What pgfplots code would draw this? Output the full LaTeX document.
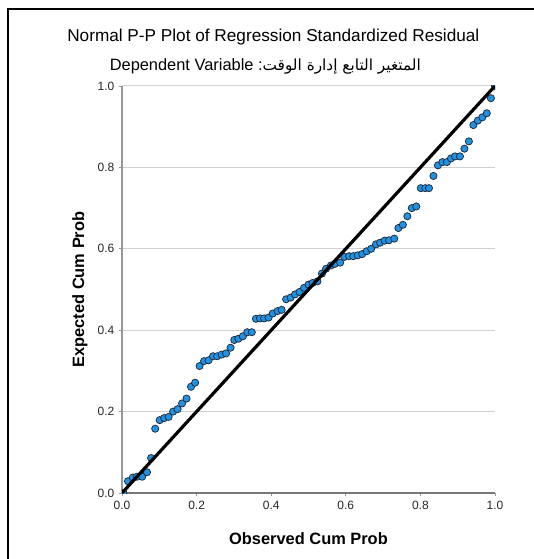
\documentclass[border=0pt]{standalone}
\usepackage{pgfplots}
\pgfplotsset{compat=1.18}
\usepackage{fontspec}
\setmainfont{Liberation Sans}
\newfontfamily\arabicfont[Script=Arabic]{DejaVu Sans}
\TeXXeTstate=1
\definecolor{ptblue}{RGB}{33,145,225}
\definecolor{ptedge}{RGB}{30,40,55}
\definecolor{gridgray}{RGB}{208,208,208}
\definecolor{axgray}{RGB}{150,150,150}
\begin{document}
\begin{tikzpicture}
\useasboundingbox (0,0) rectangle (400.5pt,-419.25pt);
\draw[black, line width=1pt] (6pt,-440pt) -- (6pt,-6.75pt) -- (420pt,-6.75pt);
\node[font=\fontsize{12.9}{14}\selectfont] at (205pt,-27.75pt) {Normal P-P Plot of Regression Standardized Residual};
\node[font=\fontsize{12.3}{14}\selectfont] at (199pt,-49.5pt) {Dependent Variable :{\arabicfont\fontsize{11.5}{14}\selectfont\beginR المتغير التابع إدارة الوقت\endR}};
\begin{axis}[
  at={(91.5pt,-369.75pt)}, anchor=origin,
  scale only axis, width=279.75pt, height=305.25pt,
  xmin=0, xmax=1, ymin=0, ymax=1,
  xtick={0,0.2,0.4,0.6,0.8,1}, ytick={0,0.2,0.4,0.6,0.8,1},
  /pgf/number format/assume math mode=true,
  /pgf/number format/.cd, fixed, fixed zerofill, precision=1, /pgfplots/.cd,
  ticklabel style={font=\fontsize{9}{10}\selectfont, text=black!85},
  axis x line*=bottom, axis y line*=left,
  tick align=outside, major tick length=2.25pt,
  tick style={draw=axgray, line width=0.6pt},
  ymajorgrids, grid style={draw=gridgray, line width=0.75pt},
  x axis line style={draw=axgray!80!black, line width=0.8pt},
  y axis line style={draw=axgray, line width=0.8pt},
  xlabel={Observed Cum Prob}, ylabel={Expected Cum Prob},
  label style={font=\fontsize{12.3}{14}\selectfont\bfseries},
  xlabel style={at={(axis description cs:0.5,-0.113)}, anchor=center},
  ylabel style={at={(axis description cs:-0.1126,0.5)}, anchor=center},
  clip marker paths=true,
]
\addplot[only marks, mark=*, mark size=2.7pt, mark options={fill=ptblue, draw=ptedge, line width=0.55pt}] table {
x y
0.004 0.000
0.016 0.029
0.029 0.038
0.040 0.040
0.054 0.040
0.067 0.051
0.078 0.086
0.089 0.158
0.101 0.179
0.113 0.184
0.125 0.187
0.137 0.200
0.149 0.206
0.161 0.220
0.173 0.232
0.185 0.261
0.196 0.271
0.208 0.312
0.220 0.324
0.232 0.326
0.244 0.336
0.255 0.336
0.267 0.340
0.279 0.343
0.291 0.357
0.301 0.376
0.312 0.379
0.324 0.385
0.336 0.395
0.348 0.395
0.359 0.428
0.370 0.429
0.381 0.429
0.393 0.431
0.404 0.441
0.417 0.447
0.428 0.450
0.440 0.476
0.452 0.480
0.464 0.488
0.476 0.494
0.488 0.504
0.500 0.512
0.511 0.516
0.524 0.520
0.536 0.539
0.547 0.551
0.560 0.559
0.571 0.563
0.585 0.566
0.596 0.580
0.609 0.582
0.620 0.582
0.632 0.584
0.644 0.587
0.656 0.594
0.668 0.600
0.681 0.611
0.692 0.615
0.704 0.620
0.716 0.621
0.730 0.625
0.741 0.651
0.753 0.659
0.765 0.680
0.777 0.700
0.789 0.704
0.801 0.749
0.813 0.749
0.823 0.749
0.835 0.779
0.847 0.805
0.859 0.813
0.871 0.813
0.882 0.822
0.893 0.827
0.906 0.827
0.918 0.846
0.930 0.864
0.942 0.904
0.954 0.915
0.966 0.923
0.978 0.933
0.989 0.970
1.000 1.000
};
\addplot[black, line width=2.4pt] coordinates {(0,0) (1,1)};
\end{axis}
\end{tikzpicture}
\end{document}
